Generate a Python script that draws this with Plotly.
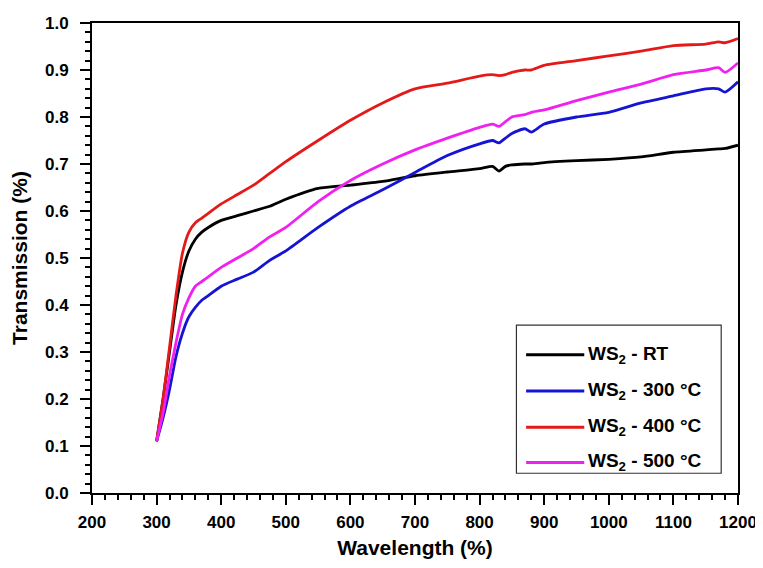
import plotly.graph_objects as go

wavelength = [300, 310, 320, 330, 340, 350, 360, 370, 380, 400, 425, 450, 475, 500,
              550, 600, 650, 700, 750, 800, 820, 830, 840, 850, 870, 880, 900, 950,
              1000, 1050, 1100, 1150, 1170, 1180, 1200]

ws2_rt = [.11, .20, .30, .40, .47, .515, .54, .555, .565, .58, .59, .60, .61, .625,
          .648, .655, .663, .675, .683, .69, .695, .685, .695, .698, .70, .70, .703, .707,
          .71, .715, .725, .73, .732, .733, .74]
ws2_300 = [.11, .16, .22, .29, .34, .375, .395, .41, .42, .44, .455, .47, .495, .515,
           .565, .61, .645, .682, .718, .743, .75, .745, .755, .765, .775, .768, .785, .80,
           .81, .83, .845, .86, .86, .853, .875]
ws2_400 = [.11, .20, .31, .42, .51, .555, .575, .585, .595, .615, .635, .655, .68, .705,
           .75, .793, .83, .86, .872, .887, .89, .888, .89, .895, .90, .90, .91, .92,
           .93, .94, .952, .955, .96, .958, .967]
ws2_500 = [.11, .17, .25, .32, .38, .415, .44, .45, .46, .48, .50, .52, .545, .565,
           .62, .665, .70, .73, .755, .778, .785, .78, .79, .80, .805, .81, .815, .835,
           .853, .87, .89, .90, .905, .895, .915]

series_names = ["WS<sub>2</sub> - RT", "WS<sub>2</sub> - 300 °C",
                "WS<sub>2</sub> - 400 °C", "WS<sub>2</sub> - 500 °C"]
series_values = [ws2_rt, ws2_300, ws2_400, ws2_500]
series_colors = ["#000000", "#1414d2", "#e41a1a", "#f020f0"]

x_ticks = list(range(200, 1201, 100))
y_ticks = [i / 10 for i in range(0, 11)]

font_family = "Liberation Sans, Arial, sans-serif"

fig = go.Figure()
for name, ys, color in zip(series_names, series_values, series_colors):
    fig.add_trace(go.Scatter(x=wavelength, y=ys, mode="lines", name=name, showlegend=False,
                             line=dict(color=color, width=2.8, shape="spline", smoothing=0.6)))

axis_common = dict(showline=True, linecolor="black", linewidth=2, mirror=True,
                   ticks="outside", tickcolor="black", tickwidth=2, ticklen=10,
                   showgrid=False, zeroline=False, ticklabeloverflow="allow",
                   tickfont=dict(family=font_family, size=17, color="black", weight="bold"),
                   title_font=dict(family=font_family, size=21, color="black", weight="bold"))

fig.update_xaxes(range=[200, 1200], tickvals=x_ticks, title_text="Wavelength (%)",
                 minor=dict(dtick=20, ticks="outside", ticklen=5, tickcolor="black", tickwidth=1.5),
                 ticklabelstandoff=3, title_standoff=9, **axis_common)
fig.update_yaxes(range=[0, 1.0], tickvals=y_ticks, tickformat=".1f", title_text="Transmission (%)",
                 minor=dict(dtick=0.02, ticks="outside", ticklen=5, tickcolor="black", tickwidth=1.5),
                 ticklabelstandoff=8, title_standoff=12, **axis_common)

# Legend box (drawn manually to match the reference's proportions)
box_x0, box_x1, box_y0, box_y1 = 0.657, 0.974, 0.042, 0.357
line_x0, line_x1, text_x = 0.672, 0.762, 0.764
item_y = [0.294, 0.217, 0.140, 0.065]

shapes = [dict(type="rect", xref="paper", yref="paper", x0=box_x0, x1=box_x1, y0=box_y0, y1=box_y1,
               line=dict(color="#333333", width=1.2), fillcolor="white", layer="above")]
annotations = []
for name, color, yy in zip(series_names, series_colors, item_y):
    shapes.append(dict(type="line", xref="paper", yref="paper", x0=line_x0, x1=line_x1, y0=yy, y1=yy,
                       line=dict(color=color, width=3), layer="above"))
    annotations.append(dict(xref="paper", yref="paper", x=text_x, y=yy, text=name, showarrow=False,
                            xanchor="left", yanchor="middle",
                            font=dict(family=font_family, size=19, color="black", weight="bold")))

fig.update_layout(
    width=755, height=560,
    margin=dict(l=84, r=24, t=6, b=75),
    paper_bgcolor="white", plot_bgcolor="white",
    shapes=shapes, annotations=annotations,
)

fig.write_html("out.html")
